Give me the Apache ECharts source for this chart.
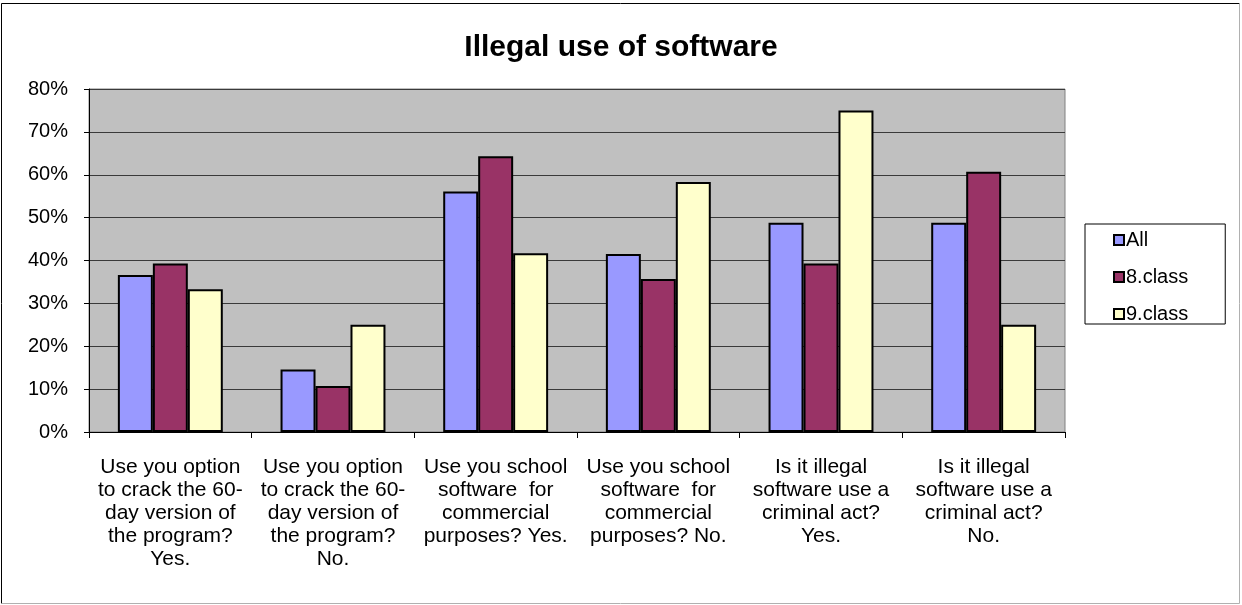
<!DOCTYPE html>
<html>
<head>
<meta charset="utf-8">
<script src="https://cdn.jsdelivr.net/npm/echarts@6/dist/echarts.min.js"></script>
<style>html,body{margin:0;padding:0;background:#fff;}#c{width:1242px;height:605px;}</style>
</head>
<body>
<div id="c"></div>
<script>
const categories = [
  "Use you option\nto crack the 60-\nday version of\nthe program?\nYes.",
  "Use you option\nto crack the 60-\nday version of\nthe program?\nNo.",
  "Use you school\nsoftware  for\ncommercial\npurposes? Yes.",
  "Use you school\nsoftware  for\ncommercial\npurposes? No.",
  "Is it illegal\nsoftware use a\ncriminal act?\nYes.",
  "Is it illegal\nsoftware use a\ncriminal act?\nNo."
];
const seriesNames = ["All", "8.class", "9.class"];
const allValues = [36.6, 14.6, 56.1, 41.5, 48.8, 48.8];
const class8Values = [39.3, 10.7, 64.3, 35.7, 39.3, 60.7];
const class9Values = [33.3, 25.0, 41.7, 58.3, 75.0, 25.0];
const yTicks = [0, 10, 20, 30, 40, 50, 60, 70, 80];

const colors = ["#9999FF", "#993366", "#FFFFCC"];
const font = "'Liberation Sans', Arial, sans-serif";
const chart = echarts.init(document.getElementById('c'));
const dataSets = [allValues, class8Values, class9Values];
chart.setOption({
  animation: false,
  backgroundColor: '#fff',
  title: {
    text: 'Illegal use of software',
    left: 'center', top: 28,
    textStyle: { fontFamily: font, fontSize: 30, fontWeight: 'bold', color: '#000' }
  },
  graphic: [
    { type: 'line', shape: { x1: 1.5, y1: 3.5, x2: 1239.5, y2: 3.5 }, style: { stroke: '#000', lineWidth: 1 }, silent: true },
    { type: 'line', shape: { x1: 1.5, y1: 3.5, x2: 1.5, y2: 603.5 }, style: { stroke: '#000', lineWidth: 1 }, silent: true },
    { type: 'line', shape: { x1: 1239.5, y1: 3.5, x2: 1239.5, y2: 603.5 }, style: { stroke: '#b0b0b0', lineWidth: 1 }, silent: true },
    { type: 'line', shape: { x1: 1.5, y1: 603.5, x2: 1239.5, y2: 603.5 }, style: { stroke: '#b0b0b0', lineWidth: 1 }, silent: true }
  ],
  legend: {
    orient: 'vertical',
    left: 1085, top: 224,
    padding: [6, 37, 0, 28],
    itemGap: 17,
    itemWidth: 10, itemHeight: 10,
    borderColor: '#000', borderWidth: 1,
    icon: 'rect',
    textStyle: { fontFamily: font, fontSize: 20, color: '#000', padding: [0, 0, 0, -3] },
    data: seriesNames
  },
  grid: {
    left: 89, right: 177, top: 89, bottom: 173,
    show: true, backgroundColor: '#C0C0C0', borderColor: '#808080', borderWidth: 1
  },
  xAxis: {
    type: 'category',
    data: categories,
    axisLine: { lineStyle: { color: '#000', width: 1 } },
    axisTick: { show: true, length: 6, lineStyle: { color: '#000' } },
    axisLabel: {
      interval: 0, fontFamily: font, fontSize: 21, color: '#000',
      lineHeight: 23, margin: 24, align: 'center'
    }
  },
  yAxis: {
    type: 'value', min: yTicks[0], max: yTicks[yTicks.length - 1], interval: 10,
    axisLine: { show: true, lineStyle: { color: '#000', width: 1 } },
    axisTick: { show: true, length: 5, lineStyle: { color: '#000' } },
    axisLabel: { formatter: '{value}%', fontFamily: font, fontSize: 20, color: '#000', margin: 21 },
    splitLine: { show: true, lineStyle: { color: '#3a3a3a', width: 1 } }
  },
  series: seriesNames.map((n, i) => ({
    name: n, type: 'bar', data: dataSets[i],
    barGap: '0%', barCategoryGap: '35.5%',
    itemStyle: { color: colors[i], borderColor: '#000', borderWidth: 2 }
  }))
});
</script>
</body>
</html>
